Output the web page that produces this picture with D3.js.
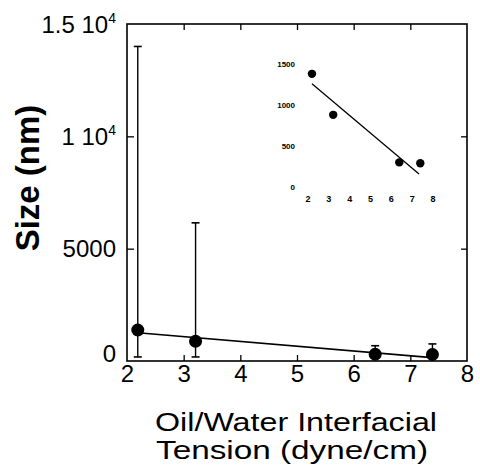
<!DOCTYPE html>
<html><head><meta charset="utf-8">
<script src="https://cdn.jsdelivr.net/npm/d3@7"></script>
<style>body{margin:0;background:#fff}svg{display:block}text{font-family:"Liberation Sans",Arial,sans-serif;fill:#000}</style>
</head><body>
<svg id="c" width="480" height="475"></svg>
<script>
// data
const tension = [2.19, 3.21, 6.38, 7.39];
const size = [1380, 880, 300, 290];
const errUpper = [14000, 6150, 680, 760];
const errLower = [180, 180, 300, 290];
const fitX = [2.19, 7.33];
const fitY = [1260, 160];
const xTicks = [2, 3, 4, 5, 6, 7, 8];
const yTicks = [0, 5000, 10000, 15000];
const yTickBase = ["0", "5000", "1 10", "1.5 10"];
const yTickExp = ["", "", "4", "4"];
const insetYTicks = [0, 500, 1000, 1500];
const insetYLabels = ["0", "500", "1000", "1500"];
const xTitle = ["Oil/Water Interfacial", "Tension (dyne/cm)"];
const yTitle = "Size (nm)";

const svg = d3.select("#c");
const L = 127, R = 467, T = 24, B = 361;
const x = d3.scaleLinear().domain([2, 8]).range([L, R]);
const y = d3.scaleLinear().domain([0, 15000]).range([B, T]);

// frame
svg.append("rect").attr("x", L).attr("y", T).attr("width", R - L).attr("height", B - T)
  .attr("fill", "none").attr("stroke", "#000").attr("stroke-width", 1.6);

// axes with inward ticks
const gB = svg.append("g").attr("transform", `translate(0,${B})`)
  .call(d3.axisBottom(x).tickValues(xTicks).tickFormat(d3.format("d")).tickSizeInner(-6).tickSizeOuter(0).tickPadding(6));
gB.select(".domain").remove();
gB.selectAll("text").attr("font-size", 24).attr("dy", "0.62em");
gB.selectAll("line").attr("stroke-width", 1.3);
gB.selectAll(".tick").filter(d => d === 2 || d === 8).select("line").remove();

const gT = svg.append("g").attr("transform", `translate(0,${T})`)
  .call(d3.axisTop(x).tickValues(xTicks.slice(1, -1)).tickSizeInner(-6).tickSizeOuter(0).tickFormat(""));
gT.select(".domain").remove();
gT.selectAll("line").attr("stroke-width", 1.3);

const gL = svg.append("g").attr("transform", `translate(${L},0)`)
  .call(d3.axisLeft(y).tickValues(yTicks.slice(1, -1)).tickSizeInner(-7).tickSizeOuter(0).tickFormat(""));
gL.select(".domain").remove();
gL.selectAll("line").attr("stroke-width", 1.3);

const gR = svg.append("g").attr("transform", `translate(${R},0)`)
  .call(d3.axisRight(y).tickValues(yTicks.slice(1, -1)).tickSizeInner(-6).tickSizeOuter(0).tickFormat(""));
gR.select(".domain").remove();
gR.selectAll("line").attr("stroke-width", 1.3);

// y tick labels with superscripts
yTicks.forEach((v, i) => {
  const t = svg.append("text").attr("x", 116).attr("y", y(v) - (i === 0 ? 8 : 0)).attr("dy", "0.36em")
    .attr("text-anchor", "end").attr("font-size", 24);
  t.append("tspan").text(yTickBase[i]);
  if (yTickExp[i]) {
    t.append("tspan").attr("font-size", 14).attr("dx", 0).attr("dy", -10).text(yTickExp[i]);
  }
});

// titles
svg.append("text").attr("transform", "translate(39,178) rotate(-90)")
  .attr("text-anchor", "middle").attr("font-size", 33).attr("font-weight", "bold").text(yTitle);
const xTitleW = [282, 272];
svg.selectAll(".xt").data(xTitle).enter().append("text")
  .attr("x", (d, i) => i === 0 ? 155 : 156).attr("y", (d, i) => 431 + i * 28)
  .attr("font-size", 25).attr("textLength", (d, i) => xTitleW[i]).attr("lengthAdjust", "spacingAndGlyphs")
  .text(d => d);

// fit line
svg.append("line").attr("x1", x(fitX[0])).attr("y1", y(fitY[0]))
  .attr("x2", x(fitX[1])).attr("y2", y(fitY[1])).attr("stroke", "#000").attr("stroke-width", 1.6);

// error bars
tension.forEach((t, i) => {
  const cx = x(t);
  svg.append("line").attr("x1", cx).attr("x2", cx).attr("y1", y(errUpper[i])).attr("y2", y(errLower[i]))
    .attr("stroke", "#000").attr("stroke-width", 1.4);
  [errUpper[i], errLower[i]].forEach(e => {
    svg.append("line").attr("x1", cx - 4).attr("x2", cx + 4).attr("y1", y(e)).attr("y2", y(e))
      .attr("stroke", "#000").attr("stroke-width", 1.6);
  });
});
svg.selectAll(".pt").data(tension).enter().append("circle")
  .attr("cx", d => x(d)).attr("cy", (d, i) => y(size[i])).attr("r", 6.5).attr("fill", "#000");

// inset
const ix = d3.scaleLinear().domain([2, 8]).range([308, 433]);
const iy = d3.scaleLinear().domain([0, 1500]).range([187, 64]);
svg.append("line").attr("x1", ix(fitX[0])).attr("y1", iy(fitY[0]))
  .attr("x2", ix(fitX[1])).attr("y2", iy(fitY[1])).attr("stroke", "#000").attr("stroke-width", 1.3);
svg.selectAll(".ipt").data(tension).enter().append("circle")
  .attr("cx", d => ix(d)).attr("cy", (d, i) => iy(size[i])).attr("r", 4.2).attr("fill", "#000");
svg.selectAll(".ixl").data(xTicks).enter().append("text")
  .attr("x", d => ix(d)).attr("y", 199).attr("dy", "0.36em").attr("text-anchor", "middle")
  .attr("font-size", 9).attr("font-weight", "bold").text(d => d);
svg.selectAll(".iyl").data(insetYTicks).enter().append("text")
  .attr("x", 295).attr("y", d => iy(d)).attr("dy", "0.36em").attr("text-anchor", "end")
  .attr("font-size", 8).attr("font-weight", "bold").text((d, i) => insetYLabels[i]);
</script>
</body></html>
